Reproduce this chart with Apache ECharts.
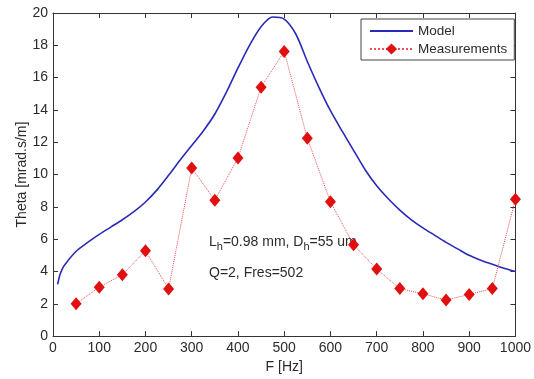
<!DOCTYPE html>
<html>
<head>
<meta charset="utf-8">
<script src="https://cdn.jsdelivr.net/npm/echarts@6/dist/echarts.min.js"></script>
<style>
  html, body { margin: 0; padding: 0; background: #fff; }
  #chart { width: 534px; height: 379px; }
</style>
</head>
<body>
<div id="chart"></div>
<script>
// model curve
const modelF = [10, 15, 20, 25, 50, 75, 100, 125, 150, 175, 200, 225, 250, 275, 300, 325, 350, 375, 400, 425, 450, 475, 500, 525, 550, 575, 600, 625, 650, 675, 700, 725, 750, 775, 800, 825, 850, 875, 900, 925, 950, 975, 1000]
const modelTheta = [3.2, 3.8, 4.15, 4.4, 5.25, 5.8, 6.3, 6.75, 7.2, 7.7, 8.3, 9.05, 9.95, 10.9, 11.8, 12.7, 13.75, 15.1, 16.6, 18.0, 19.15, 19.75, 19.62, 18.7, 17.0, 15.4, 13.95, 12.7, 11.5, 10.3, 9.3, 8.5, 7.8, 7.2, 6.7, 6.25, 5.8, 5.4, 5.0, 4.7, 4.45, 4.2, 4.0]

// measurements
const measF = [50, 100, 150, 200, 250, 300, 350, 400, 450, 500, 550, 600, 650, 700, 750, 800, 850, 900, 950, 1000]
const measTheta = [2.0, 3.03, 3.8, 5.28, 2.92, 10.4, 8.41, 11.03, 15.41, 17.62, 12.24, 8.31, 5.65, 4.15, 2.94, 2.62, 2.23, 2.58, 2.94, 8.47]

const xTicks = { min: 0, max: 1000, interval: 100 }
const yTicks = { min: 0, max: 20, interval: 2 }

const chart = echarts.init(document.getElementById("chart"))

const font = "Liberation Sans, Arial, Helvetica, sans-serif"
const txt = "#2b2b2b"
const axisCommon = {
  axisLine: { show: true, onZero: false, lineStyle: { color: "#333", width: 1 } },
  axisTick: { show: true, inside: true, length: 5, lineStyle: { color: "#333" } },
  splitLine: { show: false },
}

const option = {
  backgroundColor: "#fff",
  animation: false,
  grid: { left: 53, right: 14, top: 13, bottom: 40 },
  xAxis: [
    {
      type: "value",
      ...xTicks,
      ...axisCommon,
      name: "F [Hz]",
      nameLocation: "middle",
      nameGap: 22,
      nameTextStyle: { color: txt, fontSize: 14, fontFamily: font },
      axisLabel: { color: txt, fontSize: 14, fontFamily: font, margin: 5, formatter: (v) => String(v) },
    },
    {
      type: "value",
      position: "top",
      ...xTicks,
      ...axisCommon,
      axisLabel: { show: false },
    },
  ],
  yAxis: [
    {
      type: "value",
      ...yTicks,
      ...axisCommon,
      name: "Theta [mrad.s/m]",
      nameLocation: "middle",
      nameGap: 24,
      nameMoveOverlap: false,
      nameTextStyle: { color: txt, fontSize: 14, fontFamily: font },
      axisLabel: { color: txt, fontSize: 14, fontFamily: font, margin: 5 },
    },
    {
      type: "value",
      position: "right",
      ...yTicks,
      ...axisCommon,
      axisLabel: { show: false },
    },
  ],
  legend: {
    orient: "vertical",
    left: 361,
    top: 19,
    backgroundColor: "#fff",
    borderColor: "#444",
    borderWidth: 1,
    borderRadius: 0,
    padding: [5, 7, 4, 8],
    itemGap: 4,
    itemWidth: 43,
    itemHeight: 14,
    textStyle: { color: txt, fontSize: 13.5, fontFamily: font },
    data: [
      { name: "Model", itemStyle: { opacity: 0 } },
      { name: "Measurements" },
    ],
  },
  graphic: [
    {
      type: "text",
      left: 209,
      top: 235,
      style: {
        text: "L{sub|h}=0.98 mm, D{sub|h}=55 um",
        font: "14px " + font,
        fill: txt,
        rich: {
          sub: { fontSize: 11, fontFamily: font, fill: txt, padding: [9, 0, 0, 0] },
        },
      },
    },
    {
      type: "text",
      left: 209,
      top: 266,
      style: { text: "Q=2, Fres=502", font: "14px " + font, fill: txt },
    },
  ],
  series: [
    {
      name: "Model",
      type: "line",
      data: modelF.map((f, i) => [f, modelTheta[i]]),
      smooth: 0.3,
      showSymbol: false,
      symbol: "none",
      lineStyle: { color: "#2a2ab8", width: 1.6 },
      itemStyle: { color: "#2a2ab8" },
    },
    {
      name: "Measurements",
      type: "line",
      data: measF.map((f, i) => [f, measTheta[i]]),
      symbol: "diamond",
      symbolSize: [11, 13],
      lineStyle: { color: "#f05050", width: 1, type: "dotted" },
      itemStyle: { color: "#e01010" },
    },
  ],
}

chart.setOption(option)
</script>
</body>
</html>
